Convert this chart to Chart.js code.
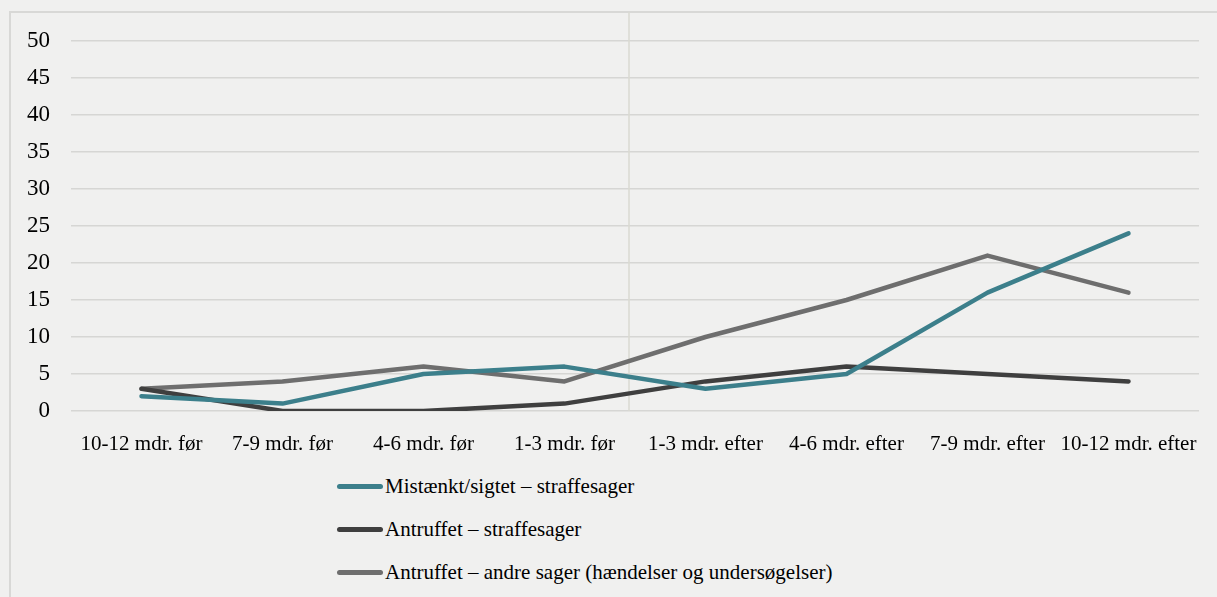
<!DOCTYPE html>
<html>
<head>
<meta charset="utf-8">
<script src="https://cdn.jsdelivr.net/npm/chart.js@4"></script>
<style>
    html, body { margin: 0; padding: 0; background: #f0f0ef; }
    #wrap { position: relative; width: 1217px; height: 597px; overflow: hidden; }
    #frame { position: absolute; left: 9px; top: 11px; width: 1230px; height: 620px; border: 2px solid #d8d8d6; box-sizing: border-box; }
    #chart { position: absolute; left: 0; top: 0; }
    #legend { position: absolute; left: 337px; top: 465px; font-family: "Liberation Serif", serif; font-size: 21px; color: #000; }
    .item { display: flex; align-items: center; height: 43px; }
    .swatch { width: 46px; height: 5px; border-radius: 3px; margin-right: 2px; }
</style>
</head>
<body>
<div id="wrap">
    <div id="frame"></div>
    <canvas id="chart" width="1217" height="460"></canvas>
    <div id="legend"></div>
</div>
<script>
const labels = ["10-12 mdr. før", "7-9 mdr. før", "4-6 mdr. før", "1-3 mdr. før",
    "1-3 mdr. efter", "4-6 mdr. efter", "7-9 mdr. efter", "10-12 mdr. efter"];
const mistaenkt = [2, 1, 5, 6, 3, 5, 16, 24];
const antruffetStraffe = [3, 0, 0, 1, 4, 6, 5, 4];
const antruffetAndre = [3, 4, 6, 4, 10, 15, 21, 16];

const font = { family: "Liberation Serif", size: 21 };

// lodret skillelinje mellem før og efter
const divider = {
    id: 'divider',
    beforeDatasetsDraw(chart) {
        const x = chart.scales.x;
        const px = (x.getPixelForValue(3) + x.getPixelForValue(4)) / 2 - 6;
        const ctx = chart.ctx;
        ctx.save();
        ctx.strokeStyle = '#dadad2';
        ctx.lineWidth = 1.5;
        ctx.beginPath();
        ctx.moveTo(px, 12);
        ctx.lineTo(px, chart.chartArea.bottom);
        ctx.stroke();
        ctx.restore();
    }
};

function line(label, data, color) {
    return {
        label: label,
        data: data,
        borderColor: color,
        backgroundColor: color,
        borderWidth: 4.5,
        borderCapStyle: 'round',
        borderJoinStyle: 'round',
        pointRadius: 0,
        tension: 0
    };
}

const chart = new Chart(document.getElementById("chart"), {
    type: 'line',
    data: {
        labels: labels,
        datasets: [
            line('Mistænkt/sigtet – straffesager', mistaenkt, '#3c7f8b'),
            line('Antruffet – straffesager', antruffetStraffe, '#3f3f3f'),
            line('Antruffet – andre sager (hændelser og undersøgelser)', antruffetAndre, '#6e6e6e')
        ]
    },
    options: {
        responsive: false,
        animation: false,
        layout: { padding: { top: 41, right: 18, left: 0, bottom: 0 } },
        plugins: {
            legend: { display: false },
            tooltip: { enabled: false }
        },
        scales: {
            x: {
                offset: true,
                grid: { display: false },
                border: { display: false },
                ticks: { font: font, color: '#000', padding: 13, maxRotation: 0, autoSkip: false },
                afterFit(scale) { scale.height = 49; }
            },
            y: {
                min: 0,
                max: 50,
                grid: { color: '#d6d6d4', lineWidth: 1.5, drawTicks: false },
                border: { display: false },
                ticks: { stepSize: 5, font: { family: "Liberation Serif", size: 23 }, color: '#000', padding: 21 },
                afterFit(scale) { scale.width = 71; }
            }
        }
    },
    plugins: [divider]
});

// legende som liste under grafen
const legend = document.getElementById("legend");
chart.data.datasets.forEach(ds => {
    const item = document.createElement("div");
    item.className = "item";
    const sw = document.createElement("span");
    sw.className = "swatch";
    sw.style.background = ds.borderColor;
    const txt = document.createElement("span");
    txt.textContent = ds.label;
    item.appendChild(sw);
    item.appendChild(txt);
    legend.appendChild(item);
});
</script>
</body>
</html>
